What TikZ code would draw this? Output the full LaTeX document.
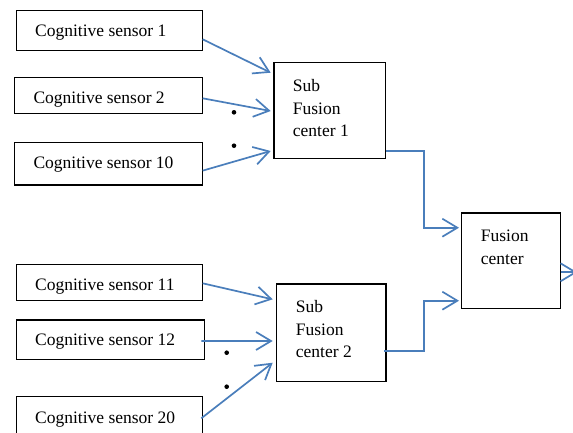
\documentclass[tikz,border=0pt]{standalone}
\usepackage{fontspec}
\setmainfont{Liberation Serif}
\newfontfamily\lserif{Liberation Serif}
\usetikzlibrary{arrows.meta}
\definecolor{arrblue}{HTML}{4A7EBB}
\begin{document}
\begin{tikzpicture}[x=1pt,y=-1pt,
  box/.style={draw=black, line width=1.1pt, anchor=north west, inner sep=0pt, outer sep=0pt},
  lbl/.style={anchor=base west, inner sep=0pt, font=\lserif\fontsize{17.5}{22.5}\selectfont},
  arr/.style={draw=arrblue, line width=1.7pt, -{Straight Barb[length=15pt,width=18pt]}},
  dotc/.style={fill=black, draw=none}]
\useasboundingbox (0,0) rectangle (573,432);
\clip (0,0) rectangle (573,432);
% sensor boxes
\node[box, minimum width=186pt, minimum height=40pt] (s1) at (16.7,10.7) {};
\node[box, minimum width=188pt, minimum height=36pt] (s2) at (14.7,77.7) {};
\node[box, minimum width=188pt, minimum height=42.7pt] (s10) at (14.7,142.3) {};
\node[box, minimum width=186pt, minimum height=36.4pt] (s11) at (16.7,264.3) {};
\node[box, minimum width=188pt, minimum height=39.3pt] (s12) at (16.7,320) {};
\node[box, minimum width=186pt, minimum height=55pt] (s20) at (16.7,396.7) {};
% fusion boxes
\node[box, minimum width=111.7pt, minimum height=95.6pt] (sub1) at (274,62.7) {};
\node[box, minimum width=109.3pt, minimum height=97.7pt] (sub2) at (276.7,284) {};
\node[box, minimum width=99.4pt, minimum height=95.7pt] (fc) at (461.3,213) {};
% labels
\node[lbl] (t1) at (35,36.7) {Cognitive sensor 1};
\node[lbl] (t2) at (33.3,103.3) {Cognitive sensor 2};
\node[lbl] (t10) at (33.3,168.3) {Cognitive sensor 10};
\node[lbl] (t11) at (35,290) {Cognitive sensor 11};
\node[lbl] (t12) at (35,345) {Cognitive sensor 12};
\node[lbl] (t20) at (35,423.3) {Cognitive sensor 20};
\node[lbl] (u1a) at (292.7,91.7) {Sub};
\node[lbl] (u1b) at (292.7,114) {Fusion};
\node[lbl] (u1c) at (292.7,136.4) {center 1};
\node[lbl] (u2a) at (295.7,312.7) {Sub};
\node[lbl] (u2b) at (295.7,335.2) {Fusion};
\node[lbl] (u2c) at (295.7,357.7) {center 2};
\node[lbl] (fa) at (480.7,241) {Fusion};
\node[lbl] (fb) at (480.7,264.3) {center};
% dots
\fill[dotc] (234,112.3) circle (2.3);
\fill[dotc] (234,145.7) circle (2.3);
\fill[dotc] (226.7,352.7) circle (2.3);
\fill[dotc] (226.7,386.7) circle (2.3);
% arrows to sub fusion 1
\draw[arr] ([yshift=-8.6pt]s1.east) -- ([xshift=-3.3pt,yshift=37.8pt]sub1.west);
\draw[arr] ([yshift=-2.6pt]s2.east) -- ([xshift=-3.3pt,yshift=-0.5pt]sub1.west);
\draw[arr] ([yshift=-7pt]s10.east) -- ([xshift=-3.3pt,yshift=-40.5pt]sub1.west);
% arrows to sub fusion 2
\draw[arr] ([yshift=-0.8pt]s11.east) -- ([xshift=-4pt,yshift=33.5pt]sub2.west);
\draw[arr] ([xshift=-3.4pt,yshift=-1.3pt]s12.east) -- ([xshift=-4pt,yshift=-8.15pt]sub2.west);
\draw[arr] ([xshift=-1.4pt,yshift=5.9pt]s20.east) -- ([xshift=-4pt,yshift=-29.85pt]sub2.west);
% to fusion center
\draw[arr] ([yshift=-40.5pt]sub1.east) -- ++(38,0) |- ([xshift=-2.3pt,yshift=33.15pt]fc.west);
\draw[arr] ([xshift=-2pt,yshift=-17.85pt]sub2.east) -- ++(39.7,0) |- ([xshift=-2.3pt,yshift=-39.85pt]fc.west);
% output
\draw[arr] ([yshift=-11.45pt]fc.east) -- ++(16.5,0);
\end{tikzpicture}
\end{document}
